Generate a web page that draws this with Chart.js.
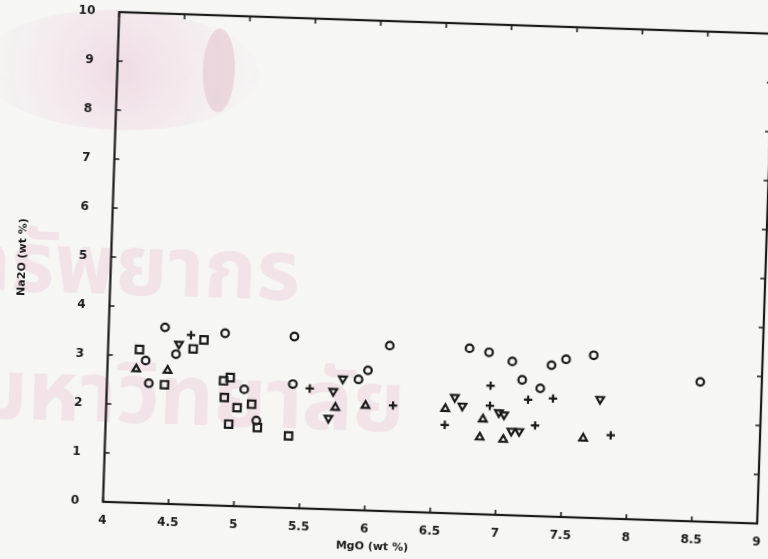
<!DOCTYPE html>
<html>
<head>
<meta charset="utf-8">
<script src="https://cdn.jsdelivr.net/npm/chart.js@4"></script>
<style>
  html, body { margin: 0; padding: 0; overflow: hidden; background: #f6f6f5; }
  body { width: 768px; height: 559px; position: relative; }
  /* scanned page sits slightly skewed */
  #sheet { position: absolute; left: -26px; top: -20px; width: 820px; height: 600px; transform: rotate(1.9deg); }
</style>
</head>
<body>
<div id="sheet"><canvas id="plot" width="820" height="600"></canvas></div>
<script>
// axis ticks
const xTicks = [4, 4.5, 5, 5.5, 6, 6.5, 7, 7.5, 8, 8.5, 9];
const yTicks = [0, 1, 2, 3, 4, 5, 6, 7, 8, 9, 10];

// MgO vs Na2O, one array per symbol group
const circles = [
    [4.43, 3.60], [4.89, 3.52], [5.42, 3.50], [4.52, 3.06], [4.29, 2.91], [4.32, 2.45], [5.05, 2.39],
    [5.15, 1.76], [5.42, 2.53], [5.99, 2.86], [5.92, 2.67], [6.15, 3.38], [6.76, 3.38], [6.91, 3.31],
    [7.09, 3.14], [7.39, 3.09], [7.50, 3.22], [7.71, 3.32], [7.17, 2.77], [7.31, 2.61], [8.53, 2.85]
];
const squares = [
    [4.73, 3.37], [4.65, 3.18], [4.24, 3.13], [4.44, 2.43], [4.89, 2.55], [4.94, 2.62], [4.90, 2.21],
    [5.00, 2.01], [5.11, 2.09], [4.94, 1.67], [5.16, 1.62], [5.40, 1.47]
];
const crosses = [
    [4.63, 3.46], [5.55, 2.45], [6.19, 2.16], [6.59, 1.80], [6.93, 2.22], [6.93, 2.63], [7.22, 2.37],
    [7.41, 2.41], [7.28, 1.85], [7.86, 1.70]
];
const trianglesUp = [
    [4.22, 2.73], [4.46, 2.72], [5.75, 2.08], [5.98, 2.14], [6.59, 2.13], [6.88, 1.94], [6.86, 1.57],
    [7.04, 1.54], [7.65, 1.62]
];
const trianglesDown = [
    [4.54, 3.27], [5.80, 2.67], [5.73, 2.41], [5.70, 1.86], [6.66, 2.37], [6.72, 2.20], [7.00, 2.09],
    [7.04, 2.05], [7.10, 1.72], [7.16, 1.72], [7.77, 2.43]
];

const xTitle = "MgO (wt %)";
const yTitle = "Na2O (wt %)";

const ink = "#1a1a1a";

function toPoints(arr) {
    return arr.map(p => ({ x: p[0], y: p[1] }));
}

function series(arr, style, radius, rotation) {
    return {
        data: toPoints(arr),
        pointStyle: style,
        pointRadius: radius,
        pointRotation: rotation || 0,
        borderColor: ink,
        backgroundColor: "rgba(0,0,0,0)",
        borderWidth: 2.2,
        showLine: false
    };
}

// faint library stamp behind the plot
const stamp = {
    id: "stamp",
    beforeDraw(chart) {
        const ctx = chart.ctx;
        ctx.save();
        let g = ctx.createRadialGradient(139, 99, 10, 139, 99, 140);
        g.addColorStop(0, "rgba(236,206,219,0.6)");
        g.addColorStop(1, "rgba(242,222,231,0.05)");
        ctx.fillStyle = g;
        ctx.beginPath();
        ctx.ellipse(139, 99, 140, 60, 0, 0, Math.PI * 2);
        ctx.fill();
        ctx.fillStyle = "rgba(214,170,182,0.35)";
        ctx.beginPath();
        ctx.ellipse(238, 96, 16, 42, 0, 0, Math.PI * 2);
        ctx.fill();
        ctx.fillStyle = "rgba(240,218,228,0.7)";
        ctx.font = "bold 84px 'Noto Sans Thai', 'DejaVu Sans', sans-serif";
        ctx.textAlign = "right";
        ctx.textBaseline = "middle";
        ctx.fillText("ทรัพยากร", 326, 306);
        ctx.fillText("มหาวิทยาลัย", 435, 434);
        ctx.restore();
    }
};

// box, inward ticks on all four sides, axis titles
const frame = {
    id: "frame",
    afterDraw(chart) {
        const { ctx, chartArea: a, scales } = chart;
        const x = scales.x, y = scales.y;
        ctx.save();
        ctx.strokeStyle = ink;
        ctx.lineWidth = 2.2;
        ctx.strokeRect(a.left, a.top, a.right - a.left, a.bottom - a.top);
        ctx.lineWidth = 1.6;
        ctx.beginPath();
        xTicks.forEach(v => {
            const px = x.getPixelForValue(v);
            ctx.moveTo(px, a.bottom); ctx.lineTo(px, a.bottom - 5);
            ctx.moveTo(px, a.top); ctx.lineTo(px, a.top + 5);
        });
        yTicks.forEach(v => {
            const py = y.getPixelForValue(v);
            ctx.moveTo(a.left, py); ctx.lineTo(a.left + 5, py);
            ctx.moveTo(a.right, py); ctx.lineTo(a.right - 5, py);
        });
        ctx.stroke();

        ctx.fillStyle = ink;
        ctx.font = "bold 11px 'DejaVu Sans', sans-serif";
        ctx.textAlign = "center";
        ctx.textBaseline = "middle";
        ctx.fillText(xTitle, a.left + (a.right - a.left) * 0.413, a.bottom + 36);
        ctx.translate(48, (a.top + a.bottom) / 2 + 3);
        ctx.rotate(-Math.PI / 2);
        ctx.fillText(yTitle, 0, 0);
        ctx.restore();
    }
};

const tickFont = { family: "'DejaVu Sans', sans-serif", size: 12, weight: "bold" };

new Chart(document.getElementById("plot"), {
    type: "scatter",
    data: {
        datasets: [
            series(circles, "circle", 3.8),
            series(squares, "rect", 5.2),
            series(crosses, "cross", 4.2),
            series(trianglesUp, "triangle", 4.4),
            series(trianglesDown, "triangle", 4.4, 180)
        ]
    },
    options: {
        responsive: false,
        animation: false,
        devicePixelRatio: 1,
        layout: { padding: { top: 41, right: 29, left: 0, bottom: 0 } },
        plugins: { legend: { display: false }, tooltip: { enabled: false } },
        scales: {
            x: {
                type: "linear",
                min: 4,
                max: 9,
                grid: { display: false },
                border: { display: false },
                afterBuildTicks: s => { s.ticks = xTicks.map(v => ({ value: v })); },
                afterFit: s => { s.height = 69; },
                ticks: { color: ink, font: tickFont, padding: 4, maxRotation: 0, callback: v => String(v) }
            },
            y: {
                type: "linear",
                min: 0,
                max: 10,
                grid: { display: false },
                border: { display: false },
                afterBuildTicks: s => { s.ticks = yTicks.map(v => ({ value: v })); },
                afterFit: s => { s.width = 136.5; },
                ticks: { color: ink, font: tickFont, padding: 16, callback: v => String(v) }
            }
        }
    },
    plugins: [stamp, frame]
});
</script>
</body>
</html>
